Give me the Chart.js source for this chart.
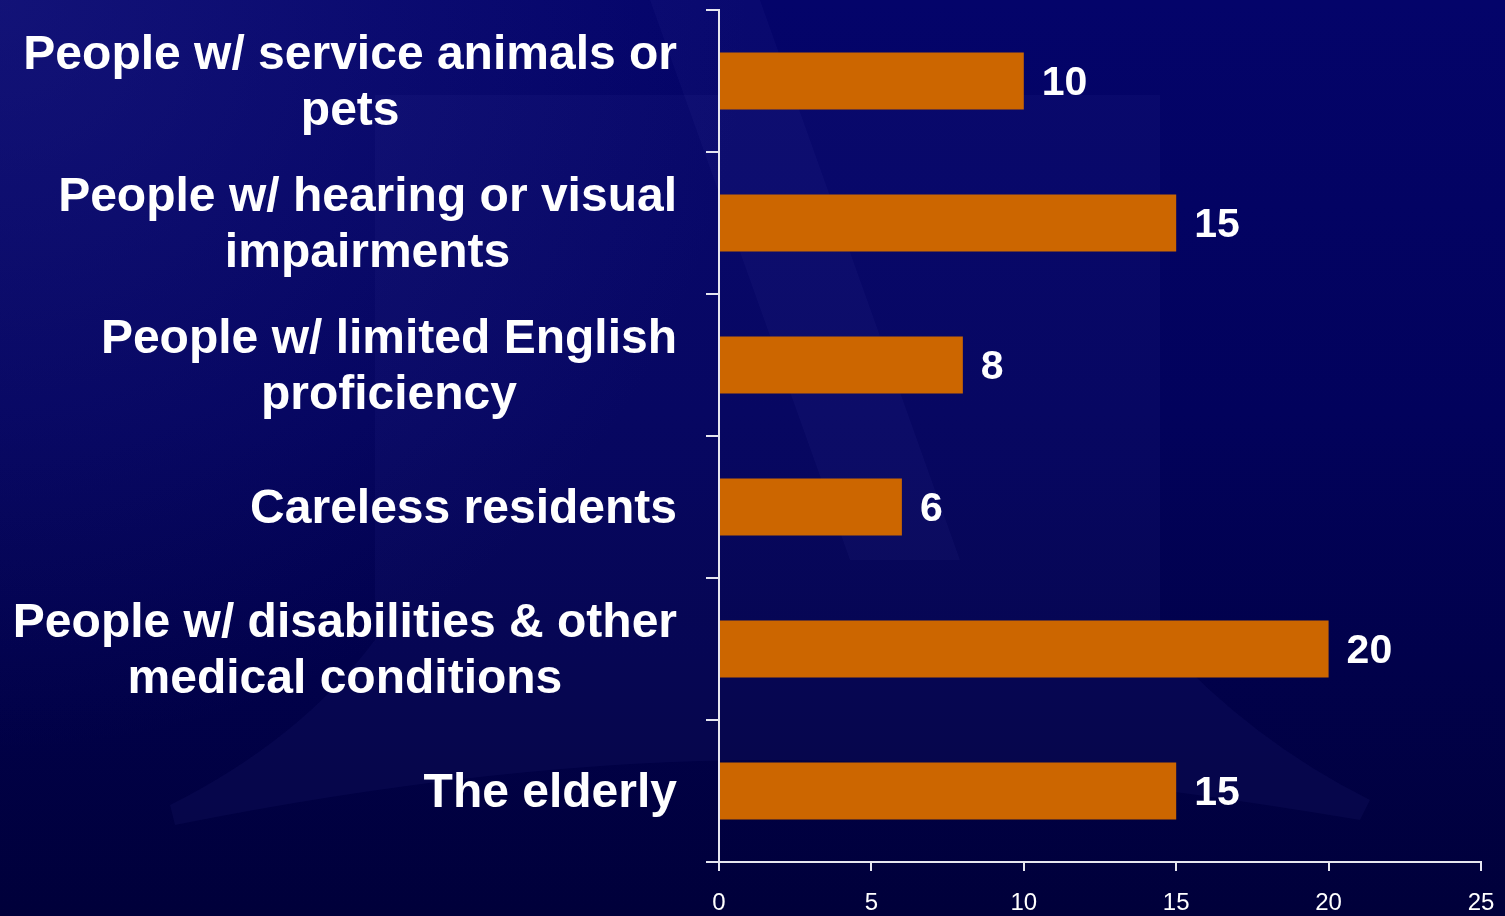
<!DOCTYPE html>
<html>
<head>
<meta charset="utf-8">
<script src="https://cdn.jsdelivr.net/npm/chart.js@4.4.1/dist/chart.umd.min.js"></script>
<style>
  html, body { margin: 0; padding: 0; background: #000050; }
  #wrap { width: 1505px; height: 916px; position: relative; }
  canvas { display: block; }
</style>
</head>
<body>
<div id="wrap"><canvas id="c" width="1505" height="916"></canvas></div>
<script>
// ---- data ----
const categories = [
  ["People w/ service animals or", "pets"],
  ["People w/ hearing or visual", "impairments"],
  ["People w/ limited English", "proficiency"],
  ["Careless residents"],
  ["People w/ disabilities & other", "medical conditions"],
  ["The elderly"]
];
const values = [10, 15, 8, 6, 20, 15];
const xTicks = [0, 5, 10, 15, 20, 25];

// ---- styling ----
const FONT = '"Liberation Sans", Arial, sans-serif';
const BAR_COLOR = '#CC6600';
const AXIS_COLOR = '#e6e6f0';

const backgroundPlugin = {
  id: 'bg',
  beforeDraw(chart) {
    const { ctx, width, height } = chart;
    ctx.save();
    const g = ctx.createLinearGradient(0, 0, 0, height);
    g.addColorStop(0, '#04046a');
    g.addColorStop(0.45, '#02025c');
    g.addColorStop(1, '#00003a');
    ctx.fillStyle = g;
    ctx.fillRect(0, 0, width, height);
    const r = ctx.createRadialGradient(0, 0, 0, 0, 0, 750);
    r.addColorStop(0, 'rgba(40,40,140,0.40)');
    r.addColorStop(1, 'rgba(40,40,140,0)');
    ctx.fillStyle = r;
    ctx.fillRect(0, 0, width, height);
    // faint watermark logo
    ctx.fillStyle = 'rgba(70,70,170,0.09)';
    ctx.beginPath();
    ctx.moveTo(375, 95); ctx.lineTo(1160, 95); ctx.lineTo(1160, 640);
    ctx.quadraticCurveTo(1250, 740, 1370, 800); ctx.lineTo(1360, 820);
    ctx.quadraticCurveTo(1000, 760, 770, 760);
    ctx.quadraticCurveTo(500, 760, 175, 825); ctx.lineTo(170, 805);
    ctx.quadraticCurveTo(300, 740, 375, 640);
    ctx.closePath();
    ctx.fill();
    ctx.fillStyle = 'rgba(90,90,190,0.07)';
    ctx.beginPath();
    ctx.moveTo(650, 0); ctx.lineTo(760, 0); ctx.lineTo(960, 560);
    ctx.lineTo(850, 560); ctx.closePath();
    ctx.fill();
    ctx.restore();
  }
};

const categoryLabelPlugin = {
  id: 'catLabels',
  afterDraw(chart) {
    const { ctx } = chart;
    const y = chart.scales.y;
    const right = 677, lineH = 56;
    ctx.save();
    ctx.font = 'bold 48px ' + FONT;
    ctx.fillStyle = '#ffffff';
    ctx.textAlign = 'center';
    ctx.textBaseline = 'middle';
    categories.forEach((lines, i) => {
      const cy = y.getPixelForValue(i);
      const w = Math.max(...lines.map(l => ctx.measureText(l).width));
      const cx = right - w / 2;
      lines.forEach((l, j) => {
        ctx.fillText(l, cx, cy + (j - (lines.length - 1) / 2) * lineH + 3);
      });
    });
    ctx.restore();
  }
};

const valueLabelPlugin = {
  id: 'valLabels',
  afterDatasetsDraw(chart) {
    const { ctx } = chart;
    const meta = chart.getDatasetMeta(0);
    ctx.save();
    ctx.font = 'bold 41px ' + FONT;
    ctx.fillStyle = '#ffffff';
    ctx.textAlign = 'left';
    ctx.textBaseline = 'middle';
    meta.data.forEach((bar, i) => {
      ctx.fillText(String(values[i]), bar.x + 18, bar.y + 3);
    });
    ctx.restore();
  }
};

new Chart(document.getElementById('c'), {
  type: 'bar',
  data: {
    labels: categories.map(c => c.join(' ')),
    datasets: [{
      data: values,
      backgroundColor: BAR_COLOR,
      borderWidth: 0,
      categoryPercentage: 0.8,
      barPercentage: 0.5
    }]
  },
  options: {
    indexAxis: 'y',
    responsive: false,
    animation: false,
    devicePixelRatio: 1,
    layout: { padding: { top: 10, right: 24, left: 0, bottom: 0 } },
    plugins: { legend: { display: false }, tooltip: { enabled: false } },
    scales: {
      x: {
        min: 0, max: 25,
        afterBuildTicks(scale) { scale.ticks = xTicks.map(v => ({ value: v })); },
        afterFit(scale) { scale.height = 54; scale.paddingLeft = 0; scale.paddingRight = 0; },
        border: { color: AXIS_COLOR, width: 2 },
        grid: { drawOnChartArea: false, drawTicks: true, tickLength: 9, color: AXIS_COLOR, lineWidth: 2 },
        ticks: { color: '#ffffff', font: { family: FONT, size: 24 }, padding: 18, maxRotation: 0 }
      },
      y: {
        afterFit(scale) { scale.width = 719; },
        border: { color: AXIS_COLOR, width: 2 },
        grid: { drawOnChartArea: false, drawTicks: true, tickLength: 13, color: AXIS_COLOR, lineWidth: 2, offset: true },
        ticks: { display: false }
      }
    }
  },
  plugins: [backgroundPlugin, categoryLabelPlugin, valueLabelPlugin]
});
</script>
</body>
</html>
